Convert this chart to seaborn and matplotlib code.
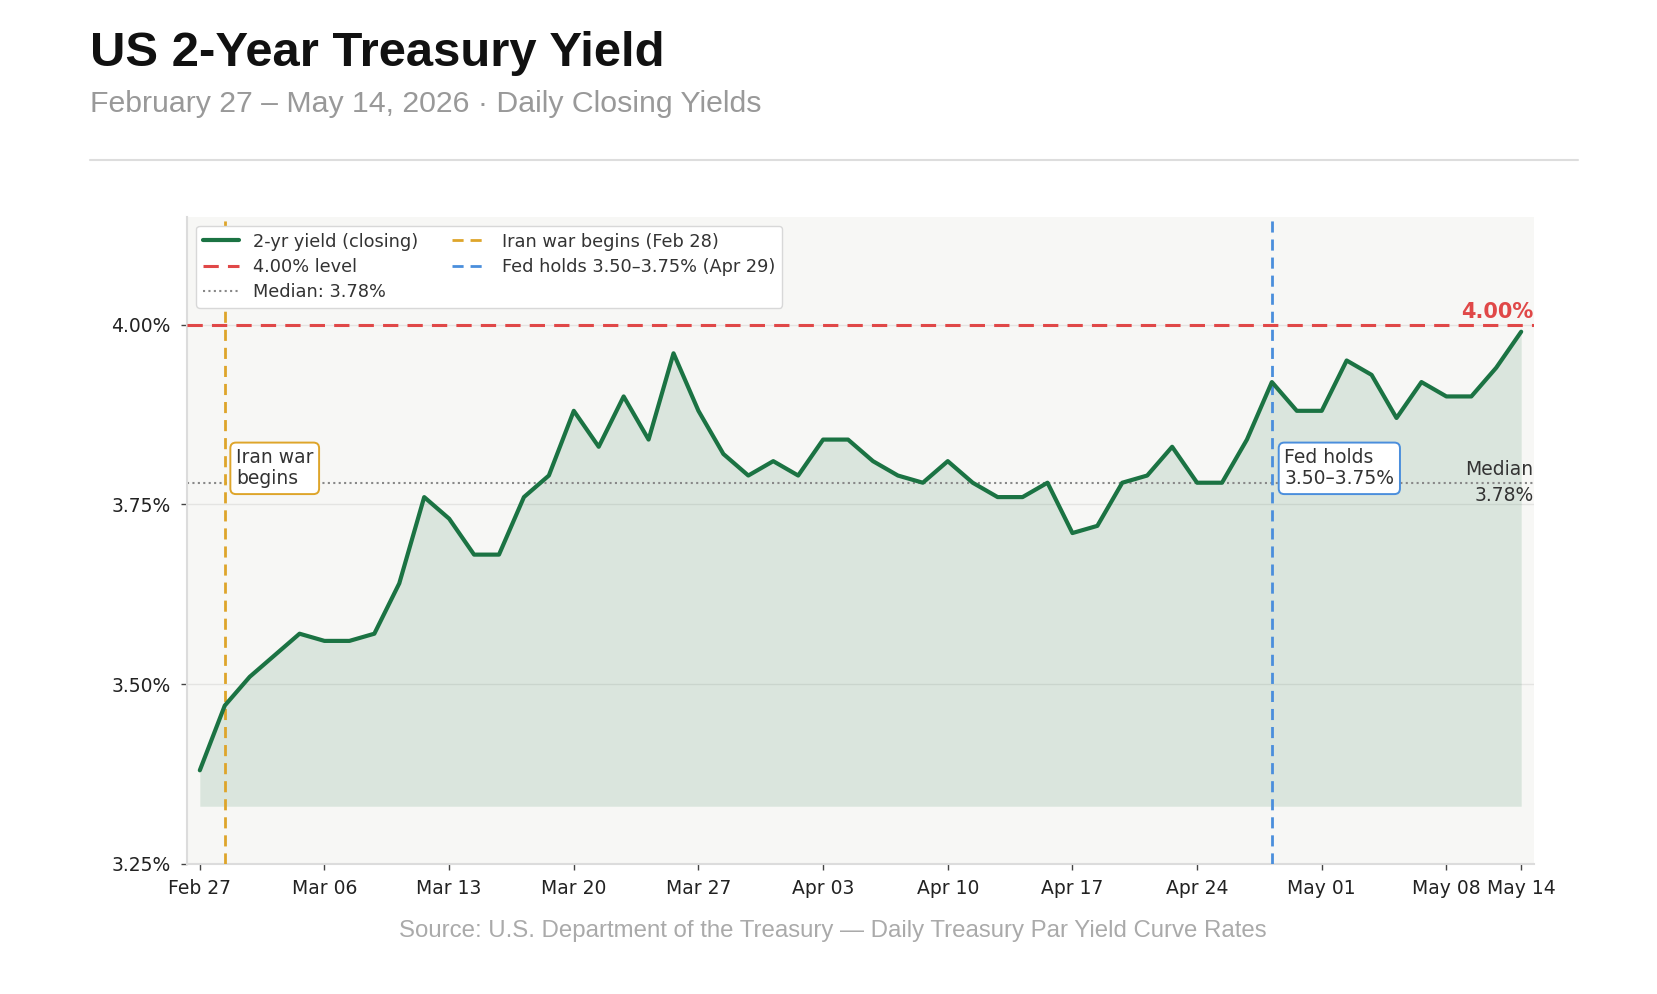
import matplotlib
matplotlib.use("Agg")
import matplotlib.pyplot as plt
from matplotlib.lines import Line2D
import numpy as np
import pandas as pd
import seaborn as sns

# ---------------- data ----------------
yields = [3.38, 3.47, 3.51, 3.54, 3.57, 3.56, 3.56, 3.57, 3.64, 3.76,
          3.73, 3.68, 3.68, 3.76, 3.79, 3.88, 3.83, 3.90, 3.84, 3.96,
          3.88, 3.82, 3.79, 3.81, 3.79, 3.84, 3.84, 3.81, 3.79, 3.78,
          3.81, 3.78, 3.76, 3.76, 3.78, 3.71, 3.72, 3.78, 3.79, 3.83,
          3.78, 3.78, 3.84, 3.92, 3.88, 3.88, 3.95, 3.93, 3.87, 3.92,
          3.90, 3.90, 3.94, 3.99]
tick_labels = ["Feb 27", "Mar 06", "Mar 13", "Mar 20", "Mar 27", "Apr 03",
               "Apr 10", "Apr 17", "Apr 24", "May 01", "May 08", "May 14"]
level_400 = 4.00
median_value = 3.78
iran_idx = 1      # first trading day after Feb 28
fed_idx = 43      # Apr 29
y_ticks = [3.25, 3.50, 3.75, 4.00]

df = pd.DataFrame({"idx": np.arange(len(yields)), "yield": yields})

# ---------------- style ----------------
sns.set_style("white")
plt.rcParams["font.family"] = ["DejaVu Sans"]

GREEN = "#1b7343"
RED = "#e04848"
ORANGE = "#dea52a"
BLUE = "#4a8edc"
BG = "#f7f7f5"

fig = plt.figure(figsize=(16.58, 9.94), dpi=100)
ax = fig.add_axes([0.113, 0.131, 0.812, 0.651])
ax.set_facecolor(BG)

base = min(yields) - 0.05
ax.fill_between(df["idx"], df["yield"], base, color=GREEN, alpha=0.13, lw=0, zorder=1)
sns.lineplot(data=df, x="idx", y="yield", ax=ax, color=GREEN, lw=3.0,
             label="2-yr yield (closing)", zorder=4)

ax.axhline(level_400, color=RED, ls=(0, (5, 3)), lw=2.2, label="4.00% level", zorder=3)
ax.axhline(median_value, color="#888888", ls=(0, (1, 1.6)), lw=1.5,
           label=f"Median: {median_value:.2f}%", zorder=2)
ax.axvline(iran_idx, color=ORANGE, ls=(0, (4, 2.5)), lw=2.0,
           label="Iran war begins (Feb 28)", zorder=3)
ax.axvline(fed_idx, color=BLUE, ls=(0, (4, 2.5)), lw=2.0,
           label="Fed holds 3.50–3.75% (Apr 29)", zorder=3)

n = len(yields)
ax.set_xlim(-0.5, n - 0.5)
ax.set_ylim(3.25, 4.15)
tick_pos = list(range(0, n - 1, 5)) + [n - 1]
ax.set_xticks(tick_pos)
ax.set_xticklabels(tick_labels, fontsize=13.5, color="#222222")
ax.set_yticks(y_ticks)
ax.set_yticklabels([f"{v:.2f}%" for v in y_ticks], fontsize=13.5, color="#222222")
ax.tick_params(axis="x", length=4, width=1, color="#444444", bottom=True, pad=7)
ax.tick_params(axis="y", length=4, width=1, color="#444444", left=True, pad=8)
ax.set_xlabel("")
ax.set_ylabel("")
ax.grid(axis="y", color="#e4e4e2", lw=1)
ax.set_axisbelow(True)
for s in ["top", "right"]:
    ax.spines[s].set_visible(False)
for s in ["left", "bottom"]:
    ax.spines[s].set_color("#dcdcdc")
    ax.spines[s].set_linewidth(1.5)

# annotations
ax.text(iran_idx + 0.45, 3.80, "Iran war\nbegins", fontsize=13.5, color="#333333",
        ha="left", va="center", zorder=6, linespacing=1.15,
        bbox=dict(boxstyle="round,pad=0.3", fc="white", ec=ORANGE, lw=1.4))
ax.text(fed_idx + 0.5, 3.80, "Fed holds\n3.50–3.75%", fontsize=13.5, color="#333333",
        ha="left", va="center", zorder=6, linespacing=1.15,
        bbox=dict(boxstyle="round,pad=0.3", fc="white", ec=BLUE, lw=1.4))
ax.text(n - 0.5, level_400 + 0.004, f"{level_400:.2f}%", fontsize=15, color=RED,
        fontweight="bold", ha="right", va="bottom", zorder=6)
ax.text(n - 0.5, median_value, f"Median\n{median_value:.2f}%", fontsize=13.5,
        color="#333333", ha="right", va="center", zorder=6, linespacing=1.45)

# legend
handles, labels = ax.get_legend_handles_labels()
order = ["2-yr yield (closing)", "4.00% level", f"Median: {median_value:.2f}%",
         "Iran war begins (Feb 28)", "Fed holds 3.50–3.75% (Apr 29)"]
hmap = dict(zip(labels, handles))
leg = ax.legend([hmap[k] for k in order], order, loc="upper left", ncol=2,
                fontsize=12.8, frameon=True, facecolor="white", edgecolor="#d8d8d8",
                framealpha=1, borderpad=0.4, columnspacing=1.9, handlelength=2.0,
                labelspacing=0.4, bbox_to_anchor=(0.0, 1.0))
for t in leg.get_texts():
    t.set_color("#333333")

# titles
fig.text(0.054, 0.934, "US 2-Year Treasury Yield", fontsize=35.3, fontweight="bold",
         color="#111111", family=["Liberation Sans", "DejaVu Sans"], va="baseline")
fig.text(0.054, 0.887, "February 27 – May 14, 2026 · Daily Closing Yields", fontsize=21.8,
         color="#999999", family=["Liberation Sans", "DejaVu Sans"], va="baseline")
fig.add_artist(Line2D([0.054, 0.952], [0.839, 0.839], transform=fig.transFigure,
                      color="#dddddd", lw=1.5))
fig.text(0.502, 0.063, "Source: U.S. Department of the Treasury — Daily Treasury Par Yield Curve Rates",
         fontsize=17.3, color="#aaaaaa", family=["Liberation Sans", "DejaVu Sans"],
         ha="center", va="center")

fig.savefig("out.png", dpi=100, facecolor="white")
